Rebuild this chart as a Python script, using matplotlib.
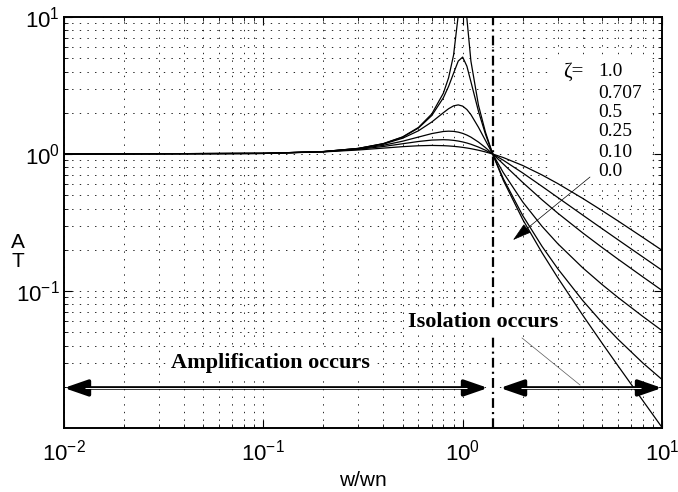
import numpy as np
import matplotlib
matplotlib.use("Agg")
import matplotlib.pyplot as plt
from matplotlib.patches import Rectangle

# ---------------- data ----------------
freq_ratio = [0.01, 0.1, 0.2, 0.3, 0.4, 0.5, 0.6, 0.7, 0.8, 0.85, 0.9, 0.95, 1.0,
              1.05, 1.1, 1.2, 1.3, 1.4142, 1.6, 2.0, 2.5, 3.0, 4.0, 5.0, 6.0, 8.0, 10.0]

tr_zeta_100 = [1.0, 1.0097, 1.0356, 1.0699, 1.1040, 1.1314, 1.1486, 1.1547, 1.1505, 1.1450,
               1.1376, 1.1286, 1.1180, 1.1063, 1.0935, 1.0656, 1.0356, 1.0, 0.9417, 0.8246,
               0.7033, 0.6083, 0.4743, 0.3865, 0.3255, 0.2466, 0.1983]
tr_zeta_0707 = [1.0, 1.0099, 1.0384, 1.0819, 1.1345, 1.1882, 1.2340, 1.2636, 1.2718, 1.2675,
                1.2578, 1.2433, 1.2247, 1.2028, 1.1781, 1.1235, 1.0658, 1.0, 0.9001, 0.7276,
                0.5805, 0.4814, 0.3583, 0.2854, 0.2372, 0.1775, 0.1418]
tr_zeta_050 = [1.0, 1.0100, 1.0400, 1.0896, 1.1576, 1.2403, 1.3293, 1.4094, 1.4598, 1.4678,
               1.4626, 1.4443, 1.4142, 1.3744, 1.3275, 1.2221, 1.1144, 1.0, 0.8443, 0.6202,
               0.4631, 0.3701, 0.2656, 0.2080, 0.1713, 0.1270, 0.1010]
tr_zeta_025 = [1.0, 1.0101, 1.0412, 1.0964, 1.1810, 1.3038, 1.4771, 1.7129, 2.0014, 2.1407,
               2.2450, 2.2831, 2.2361, 2.1114, 1.9385, 1.5674, 1.2582, 1.0, 0.7305, 0.4472,
               0.2966, 0.2215, 0.1478, 0.1116, 0.0900, 0.0653, 0.0514]
tr_zeta_010 = [1.0, 1.0101, 1.0416, 1.0985, 1.1889, 1.3282, 1.5468, 1.9093, 2.5707, 3.1169,
               3.8822, 4.7664, 5.0990, 4.3727, 3.3666, 2.0519, 1.4013, 1.0, 0.6593, 0.3559,
               0.2120, 0.1454, 0.0853, 0.0589, 0.0446, 0.0299, 0.0226]
tr_zeta_000 = [1.0, 1.0101, 1.0417, 1.0989, 1.1905, 1.3333, 1.5625, 1.9608, 2.7778, 3.6036,
               5.2632, 10.256, np.nan, 9.7561, 4.7619, 2.2727, 1.4493, 1.0, 0.6410, 0.3333,
               0.1905, 0.1250, 0.0667, 0.0417, 0.0286, 0.0159, 0.0101]

zeta_labels = ["1.0", "0.707", "0.5", "0.25", "0.10", "0.0"]
crossover = 1.414
arrow_level = 0.0196
amp_range = [0.01, 1.34]
iso_range = [1.54, 10.0]

xtick_vals = [0.01, 0.1, 1, 10]
xtick_labels = [r"$\mathregular{10^{-2}}$", r"$\mathregular{10^{-1}}$",
                r"$\mathregular{10^{0}}$", r"$\mathregular{10^{1}}$"]
ytick_vals = [0.1, 1, 10]
ytick_labels = [r"$\mathregular{10^{-1}}$", r"$\mathregular{10^{0}}$", r"$\mathregular{10^{1}}$"]

# ---------------- figure ----------------
plt.rcParams["font.family"] = ["Liberation Sans", "DejaVu Sans"]
plt.rcParams["mathtext.default"] = "regular"
plt.rcParams["lines.scale_dashes"] = False

fig = plt.figure(figsize=(6.78, 4.92), dpi=100)
ax = fig.add_axes([64 / 678, 1 - 428 / 492, 598 / 678, 411 / 492])
ax.set_xscale("log")
ax.set_yscale("log")
ax.set_xlim(0.01, 10)
ax.set_ylim(0.01, 10)
ax.set_axisbelow(True)

ax.grid(True, which="both", color="0.15", linestyle=(0, (1.0, 4.5)), linewidth=0.7)

for s in ax.spines.values():
    s.set_linewidth(1.4)

ax.tick_params(which="both", direction="in", top=True, right=True)
ax.tick_params(which="major", length=6, width=0.8, labelsize=16)
ax.tick_params(axis="x", which="major", pad=8)
ax.tick_params(axis="y", which="major", pad=3)
ax.tick_params(which="minor", length=3, width=0.6)
ax.set_xticks(xtick_vals)
ax.set_xticklabels(xtick_labels)
ax.set_yticks(ytick_vals)
ax.set_yticklabels(ytick_labels)

# legend white box behind labels
ax.add_patch(Rectangle((0.8127, 0.594), 0.164, 0.306, transform=ax.transAxes,
                       facecolor="white", edgecolor="none", zorder=1))

curves = [tr_zeta_100, tr_zeta_0707, tr_zeta_050, tr_zeta_025, tr_zeta_010, tr_zeta_000]
for tr in curves:
    ax.plot(freq_ratio, tr, color="black", linewidth=0.9, zorder=2)

ax.axvline(crossover, color="black", linewidth=1.6, linestyle=(0, (7, 3, 1.5, 3)), zorder=3)

# double arrows
for rng in (amp_range, iso_range):
    ax.annotate("", xy=(rng[1], arrow_level), xytext=(rng[0], arrow_level),
                arrowprops=dict(arrowstyle="<|-|>,head_length=1.3,head_width=0.45",
                                mutation_scale=11, color="black", linewidth=2.6,
                                shrinkA=0, shrinkB=0), zorder=4)
    # white center line of the shaft
    p0 = ax.transData.transform((rng[0], arrow_level))
    p1 = ax.transData.transform((rng[1], arrow_level))
    inv = ax.transData.inverted()
    q0 = inv.transform((p0[0] + 21, p0[1]))
    q1 = inv.transform((p1[0] - 21, p1[1]))
    ax.plot([q0[0], q1[0]], [arrow_level, arrow_level], color="white",
            linewidth=0.7, zorder=5, solid_capstyle="butt")

serif = ["Liberation Serif", "DejaVu Serif"]
ax.text(0.3445, 0.158, "Amplification occurs", transform=ax.transAxes, ha="center",
        va="center", fontsize=16, fontweight="bold", family=serif, zorder=6,
        bbox=dict(facecolor="white", edgecolor="none", pad=2))
ax.text(0.7015, 0.258, "Isolation occurs", transform=ax.transAxes, ha="center",
        va="center", fontsize=16, fontweight="bold", family=serif, zorder=6,
        bbox=dict(facecolor="white", edgecolor="none", pad=2))

# pointer line from "Isolation occurs"
ax.plot([1.985, 3.879], [0.0454, 0.0206], color="0.35", linewidth=0.5, zorder=3)

# legend labels
ax.text(0.8344, 0.8662, "ζ=", transform=ax.transAxes, ha="left", va="center",
        fontsize=15, family=serif, zorder=6)
label_y = [0.8662, 0.8127, 0.7676, 0.7202, 0.6715, 0.6253]
for lab, yy in zip(zeta_labels, label_y):
    ax.text(0.893, yy, lab, transform=ax.transAxes, ha="left", va="center",
            fontsize=14, family=serif, zorder=6)

# pointer arrow from legend
ax.annotate("", xy=(1.789, 0.2356), xytext=(4.353, 0.679),
            arrowprops=dict(arrowstyle="-|>,head_length=1.2,head_width=0.35",
                            mutation_scale=10, color="black", linewidth=0.5,
                            shrinkA=0, shrinkB=0), zorder=6)

ax.set_xlabel("w/wn", fontsize=15, labelpad=4)
fig.text(18 / 678, 1 - 252 / 492, "A\nT", ha="center", va="center", fontsize=15,
         linespacing=1.0)

fig.savefig("out.png", dpi=100)
